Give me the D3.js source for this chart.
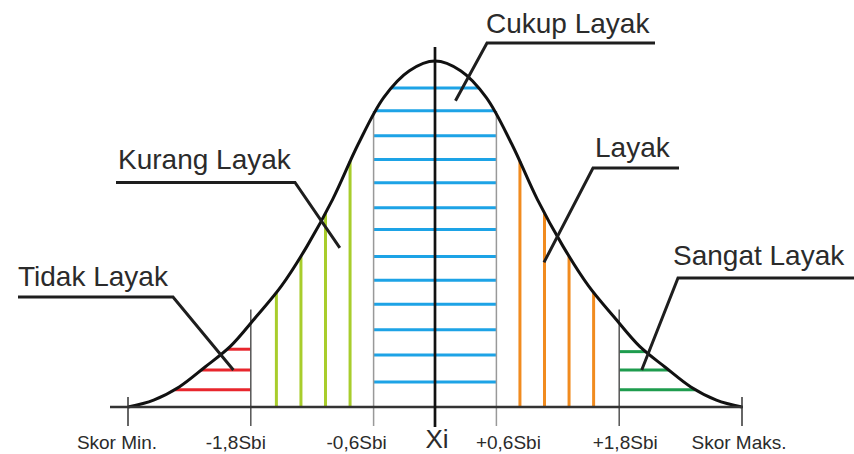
<!DOCTYPE html>
<html>
<head>
<meta charset="utf-8">
<script src="https://cdn.jsdelivr.net/npm/d3@7"></script>
<style>
  body { margin: 0; background: #fff; }
  svg { display: block; font-family: "Liberation Sans", Arial, sans-serif; }
</style>
</head>
<body>
<svg id="chart" width="854" height="454"></svg>
<script>
// curve positions in Sbi units from the mean Xi
const curveSbi = [-3, -2.75, -2.5, -2.25, -2, -1.75, -1.5, -1.25, -1, -0.75, -0.5, -0.25, 0,
  0.25, 0.5, 0.75, 1, 1.25, 1.5, 1.75, 2, 2.25, 2.5, 2.75, 3]
// curve height as percent of the peak
const curveHeight = [0, 2, 5.8, 11.5, 17.5, 26, 35, 46.5, 60, 76, 89.5, 97.2, 100,
  97.2, 89.5, 76, 60, 46.5, 35, 26, 17.5, 11.5, 5.8, 2, 0]

// tick positions (Sbi) and their labels
const tickSbi = [-3, -1.8, -0.6, 0, 0.6, 1.8, 3]
const tickLabels = ['Skor Min.', '-1,8Sbi', '-0,6Sbi', 'Xi', '+0,6Sbi', '+1,8Sbi', 'Skor Maks.']

// category names
const categories = ['Tidak Layak', 'Kurang Layak', 'Cukup Layak', 'Layak', 'Sangat Layak']

// hatching of each band
const tidakLevels = [16.7, 10.7, 5]
const kurangSbi = [-1.55, -1.31, -1.07, -0.83]
const cukupLevels = [92.2, 85.6, 78.4, 71.5, 64.8, 57.6, 51.3, 43.5, 36.6, 29.7, 22.3, 15, 7.2]
const layakSbi = [0.83, 1.07, 1.31, 1.55]
const sangatLevels = [16, 10.7, 5]

// where each leader line points to (Sbi, height)
const pointerSbi = [-1.97, -0.93, 0.2, 1.065, 2.02]
const pointerHeight = [10.7, 46, 88.5, 41.8, 10.7]

function makeChart() {
  const svg = d3.select('#chart')

  const x = d3.scaleLinear().domain([-3, 3]).range([128, 742])
  const y = d3.scaleLinear().domain([0, 100]).range([407, 61])

  const points = curveSbi.map((s, i) => [s, curveHeight[i]])
  const line = d3.line()
    .x(d => x(d[0]))
    .y(d => y(d[1]))
    .curve(d3.curveCatmullRom.alpha(0.5))

  // hidden path used to look up positions on the curve
  const probe = svg.append('path')
    .attr('d', line(points))
    .attr('fill', 'none')
    .attr('stroke', 'none')
  const node = probe.node()
  const total = node.getTotalLength()
  const samples = d3.range(0, 2001).map(i => node.getPointAtLength(total * i / 2000))
  probe.remove()

  // y pixel of the curve at x pixel
  const curveY = px => samples.reduce((a, b) => Math.abs(b.x - px) < Math.abs(a.x - px) ? b : a).y
  // left and right x pixel where curve reaches a y pixel
  const leftX = py => samples.find(p => p.y <= py).x
  const rightX = py => samples.slice().reverse().find(p => p.y <= py).x

  const hatch = svg.append('g')

  // Tidak Layak - red horizontal lines
  hatch.selectAll('.red')
    .data(tidakLevels)
    .enter().append('line')
    .attr('x1', d => leftX(y(d)))
    .attr('x2', x(-1.8))
    .attr('y1', d => y(d))
    .attr('y2', d => y(d))
    .attr('stroke', '#e8262d')
    .attr('stroke-width', 3)

  // Kurang Layak - yellow green vertical lines
  hatch.selectAll('.lime')
    .data(kurangSbi)
    .enter().append('line')
    .attr('x1', d => x(d))
    .attr('x2', d => x(d))
    .attr('y1', y(0))
    .attr('y2', d => curveY(x(d)))
    .attr('stroke', '#a8cd2c')
    .attr('stroke-width', 3)

  // Cukup Layak - blue horizontal lines
  hatch.selectAll('.blue')
    .data(cukupLevels)
    .enter().append('line')
    .attr('x1', d => Math.max(x(-0.6), leftX(y(d))))
    .attr('x2', d => Math.min(x(0.6), rightX(y(d))))
    .attr('y1', d => y(d))
    .attr('y2', d => y(d))
    .attr('stroke', '#1da3e6')
    .attr('stroke-width', 3)

  // Layak - orange vertical lines
  hatch.selectAll('.orange')
    .data(layakSbi)
    .enter().append('line')
    .attr('x1', d => x(d))
    .attr('x2', d => x(d))
    .attr('y1', y(0))
    .attr('y2', d => curveY(x(d)))
    .attr('stroke', '#f18b1f')
    .attr('stroke-width', 3)

  // Sangat Layak - green horizontal lines
  hatch.selectAll('.green')
    .data(sangatLevels)
    .enter().append('line')
    .attr('x1', x(1.8))
    .attr('x2', d => rightX(y(d)))
    .attr('y1', d => y(d))
    .attr('y2', d => y(d))
    .attr('stroke', '#1e9c4e')
    .attr('stroke-width', 3)

  // grey band borders
  const borders = tickSbi.filter(d => Math.abs(d) > 0 && Math.abs(d) < 3)
  svg.append('g').selectAll('line')
    .data(borders)
    .enter().append('line')
    .attr('x1', d => x(d))
    .attr('x2', d => x(d))
    .attr('y1', d => Math.abs(d) > 1 ? y(28.2) : curveY(x(d)) - 3)
    .attr('y2', y(0) + 19)
    .attr('stroke', d => Math.abs(d) > 1 ? '#555' : '#999')
    .attr('stroke-width', 1.5)

  // bell curve
  svg.append('path')
    .attr('d', line(points))
    .attr('fill', 'none')
    .attr('stroke', '#111')
    .attr('stroke-width', 3)

  // base line
  svg.append('line')
    .attr('x1', 110)
    .attr('x2', x(3) + 1)
    .attr('y1', y(0))
    .attr('y2', y(0))
    .attr('stroke', '#333')
    .attr('stroke-width', 2.5)

  // end ticks
  svg.append('g').selectAll('line')
    .data([-3, 3])
    .enter().append('line')
    .attr('x1', d => x(d))
    .attr('x2', d => x(d))
    .attr('y1', y(0) - 10)
    .attr('y2', y(0) + 19)
    .attr('stroke', '#333')
    .attr('stroke-width', 1.5)

  // Xi line
  svg.append('line')
    .attr('x1', x(0))
    .attr('x2', x(0))
    .attr('y1', 47)
    .attr('y2', y(0) + 20)
    .attr('stroke', '#111')
    .attr('stroke-width', 2.7)

  // tick labels
  const labelShift = [-11, -15, -17, 2, 12, 6, -3]
  svg.append('g').selectAll('text')
    .data(tickLabels)
    .enter().append('text')
    .attr('x', (d, i) => x(tickSbi[i]) + labelShift[i])
    .attr('y', (d, i) => d === 'Xi' ? 448 : 449)
    .attr('text-anchor', 'middle')
    .attr('font-size', (d) => d === 'Xi' ? 26 : 19)
    .attr('fill', '#2b2b2b')
    .text(d => d)

  // category callouts: text pos, underline span, elbow side
  const callout = [
    {tx: 18, ty: 286, ux1: 18, ux2: 173, uy: 297, elbow: 'right'},
    {tx: 118, ty: 169, ux1: 116, ux2: 295, uy: 182.5, elbow: 'right'},
    {tx: 486, ty: 33, ux1: 487, ux2: 655, uy: 43, elbow: 'left'},
    {tx: 595, ty: 157, ux1: 593, ux2: 679, uy: 168, elbow: 'left'},
    {tx: 673, ty: 265, ux1: 678, ux2: 854, uy: 278, elbow: 'left'}
  ]

  const notes = svg.append('g')
  categories.forEach((name, i) => {
    const c = callout[i]
    const ex = c.elbow === 'left' ? c.ux1 : c.ux2
    const sx = c.elbow === 'left' ? c.ux2 : c.ux1
    notes.append('path')
      .attr('d', `M${sx},${c.uy}L${ex},${c.uy}L${x(pointerSbi[i])},${y(pointerHeight[i])}`)
      .attr('fill', 'none')
      .attr('stroke', '#1e1e1e')
      .attr('stroke-width', 3)
    notes.append('text')
      .attr('x', c.tx)
      .attr('y', c.ty)
      .attr('font-size', 28)
      .attr('fill', '#2b2b2b')
      .text(name)
  })
}

window.onload = makeChart
</script>
</body>
</html>
